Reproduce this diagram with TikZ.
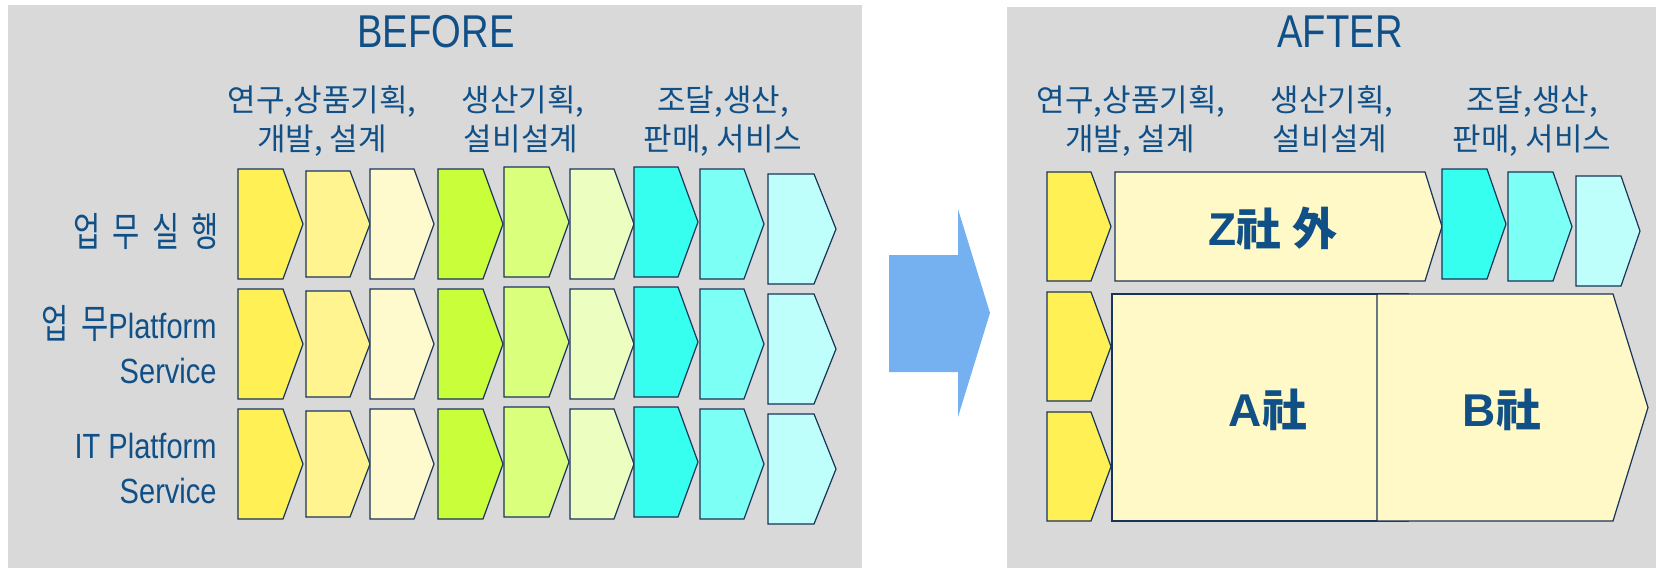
\documentclass[tikz,border=0pt]{standalone}
\usepackage{fontspec}
\setmainfont{Liberation Sans}[FakeStretch=0.83]
\newfontfamily\plainlat{Liberation Sans}
\newfontfamily\kr{Noto Sans CJK KR}
\newfontfamily\krn{Noto Sans CJK KR}[FakeStretch=0.74,LetterSpace=30]
\definecolor{txt}{RGB}{16,80,135}
\definecolor{panel}{RGB}{217,217,217}
\definecolor{navy}{RGB}{25,52,90}
\definecolor{arrowblue}{RGB}{117,176,240}
\definecolor{ca}{RGB}{255,240,85}
\definecolor{cb}{RGB}{255,244,144}
\definecolor{cc}{RGB}{255,250,205}
\definecolor{cd}{RGB}{200,255,58}
\definecolor{ce}{RGB}{218,255,124}
\definecolor{cf}{RGB}{237,255,192}
\definecolor{cg}{RGB}{54,255,240}
\definecolor{ch}{RGB}{124,255,244}
\definecolor{ci}{RGB}{191,255,251}
\definecolor{boxfill}{RGB}{255,249,200}
% \chev{x1}{y1}{xtip}{y2}{depth}{fill}
\newcommand\chev[6]{\draw[chevline,fill=#6] (#1,#2) -- ({#3-#5},#2) -- (#3,{(#2+#4)/2}) -- ({#3-#5},#4) -- (#1,#4) -- cycle;}
\begin{document}
\begin{tikzpicture}[x=0.5pt,y=-0.5pt,
  chevline/.style={draw=navy,line width=0.6pt,line join=miter},
  hdr/.style={anchor=base,text=txt,inner sep=0pt,font=\kr\fontsize{15.5pt}{18pt}\selectfont},
  rowlab/.style={anchor=base east,text=txt,inner sep=0pt,font=\fontsize{17.5pt}{21pt}\selectfont},
  rowkr/.style={anchor=base east,text=txt,inner sep=0pt,font=\krn\fontsize{20pt}{24pt}\selectfont},
  ttl/.style={anchor=base,text=txt,inner sep=0pt,font=\fontsize{23pt}{27pt}\selectfont},
  big/.style={anchor=base,text=txt,inner sep=0pt,font=\plainlat\bfseries\fontsize{23pt}{27pt}\selectfont}]
\useasboundingbox (0,0) rectangle (1656,568);
% panels
\fill[panel] (8,5) rectangle (862,568);
\fill[panel] (1007,7) rectangle (1656,568);
% big arrow
\fill[arrowblue] (889,255) -- (958,255) -- (958,209) -- (990,313) -- (958,417) -- (958,372) -- (889,372) -- cycle;
% titles
\node[ttl] (before) at (436,47) {BEFORE};
\node[ttl] (after) at (1340,47) {AFTER};
% headers left
\node[hdr] (hl1a) at (322,111) {연구,상품기획,};
\node[hdr] (hl1b) at (322,150) {개발, 설계};
\node[hdr] (hl2a) at (523,111) {생산기획,};
\node[hdr] (hl2b) at (521,150) {설비설계};
\node[hdr] (hl3a) at (723,111) {조달,생산,};
\node[hdr] (hl3b) at (723,150) {판매, 서비스};
% headers right
\node[hdr] (hr1a) at (1131,111) {연구,상품기획,};
\node[hdr] (hr1b) at (1130,150) {개발, 설계};
\node[hdr] (hr2a) at (1332,111) {생산기획,};
\node[hdr] (hr2b) at (1330,150) {설비설계};
\node[hdr] (hr3a) at (1532,111) {조달,생산,};
\node[hdr] (hr3b) at (1532,150) {판매, 서비스};
% row labels
\node[rowkr] (r1) at (219,246) {업무실행};
\node[rowlab] (r2a) at (217,338) {{\krn\fontsize{20pt}{24pt}\selectfont 업무}Platform};
\node[rowlab] (r2b) at (217,383) {Service};
\node[rowlab] (r3a) at (217,458) {IT Platform};
\node[rowlab] (r3b) at (217,503) {Service};
% left chevron grid
\foreach \dy in {0,120,240}{
  \chev{238}{169+\dy}{303}{279+\dy}{20}{ca}
  \chev{306}{171+\dy}{370}{277+\dy}{20}{cb}
  \chev{370}{169+\dy}{434}{279+\dy}{20}{cc}
  \chev{438}{169+\dy}{503}{279+\dy}{20}{cd}
  \chev{504}{167+\dy}{569}{277+\dy}{20}{ce}
  \chev{570}{169+\dy}{634}{279+\dy}{20}{cf}
  \chev{634}{167+\dy}{698}{277+\dy}{20}{cg}
  \chev{700}{169+\dy}{764}{279+\dy}{20}{ch}
  \chev{768}{174+\dy}{836}{284+\dy}{22}{ci}
}
% right panel
\chev{1047}{172}{1111}{281}{20}{ca}
\chev{1047}{292}{1111}{401}{20}{ca}
\chev{1047}{412}{1111}{521}{20}{ca}
\chev{1115}{172}{1442}{281}{17}{boxfill}
\chev{1442}{169}{1506}{279}{19}{cg}
\chev{1508}{172}{1572}{281}{19}{ch}
\chev{1576}{176}{1640}{286}{19}{ci}
\draw[chevline,fill=boxfill] (1112,294) rectangle (1408,521);
\chev{1377}{294}{1648}{521}{35}{boxfill}
\node[big] (z) at (1273,245) {Z{\kr\fontsize{22.5pt}{27pt}\selectfont 社 外}};
\node[big] (a) at (1268,426) {A{\kr\fontsize{22.5pt}{27pt}\selectfont 社}};
\node[big] (b) at (1502,426) {B{\kr\fontsize{22.5pt}{27pt}\selectfont 社}};
\end{tikzpicture}
\end{document}
